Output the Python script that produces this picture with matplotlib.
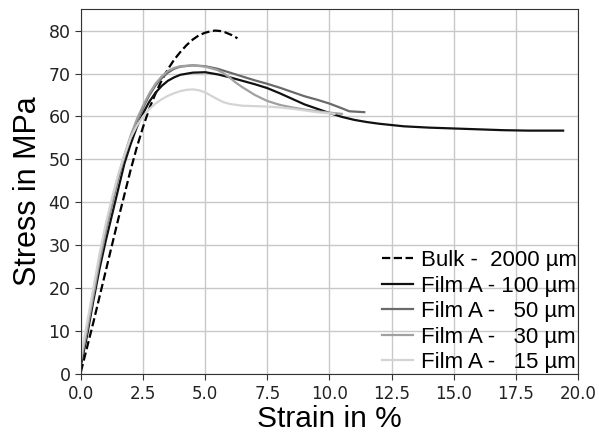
import matplotlib
matplotlib.use("Agg")
import matplotlib.pyplot as plt

# strain in %, stress in MPa
bulk_x = [0, 0.5, 1, 1.5, 2, 2.25, 2.5, 2.75, 3, 3.25, 3.5, 3.75, 4, 4.25, 4.5, 4.75, 5, 5.2, 5.4, 5.6, 5.8, 6.05, 6.3]
bulk_y = [0.5, 12, 24, 36, 47.5, 52.8, 57.5, 61.8, 65.3, 68.4, 71, 73.2, 75, 76.6, 77.9, 78.9, 79.5, 79.8, 80, 79.9, 79.6, 79, 78.2]

f100_x = [0, 0.25, 0.5, 0.75, 1, 1.25, 1.5, 1.75, 2, 2.25, 2.5, 2.75, 3, 3.25, 3.5, 3.75, 4, 4.5, 5, 5.5, 6, 6.5,
          7, 7.5, 8, 8.5, 9, 9.5, 10, 10.5, 11, 11.5, 12, 12.5, 13, 14, 15, 16, 17, 18, 19.4]
f100_y = [2, 9, 17, 24.5, 31, 37, 43, 49, 53.5, 57.5, 60.7, 63.4, 65.5, 67.1, 68.3, 69.1, 69.7, 70.2, 70.3, 69.8, 69.1, 68.3,
          67.5, 66.6, 65.4, 64.1, 62.8, 61.8, 60.8, 59.9, 59.2, 58.7, 58.3, 58.0, 57.7, 57.4, 57.2, 57.0, 56.8, 56.7, 56.7]

f50_x = [0, 0.25, 0.5, 0.75, 1, 1.25, 1.5, 1.75, 2, 2.25, 2.5, 2.75, 3, 3.25, 3.5, 3.75, 4, 4.5, 5, 5.5, 6, 6.5,
         7, 7.5, 8, 8.5, 9, 9.5, 10, 10.5, 10.8, 11.4]
f50_y = [3, 10, 18, 26, 33, 39.5, 45.5, 50.5, 55, 58.8, 62, 64.9, 67.2, 68.9, 70.2, 71.1, 71.6, 71.9, 71.7, 71.1, 70.2, 69.3,
         68.4, 67.6, 66.7, 65.7, 64.7, 63.9, 63, 61.9, 61.2, 61.0]

f30_x = [0, 0.25, 0.5, 0.75, 1, 1.25, 1.5, 1.75, 2, 2.25, 2.5, 2.75, 3, 3.25, 3.5, 3.75, 4, 4.5, 5, 5.5, 5.75, 6, 6.25, 6.5,
         7, 7.5, 8, 8.5, 9, 9.5, 10, 10.5]
f30_y = [3, 10.5, 18.5, 26.5, 33.5, 40, 46, 51, 55.5, 59.3, 62.5, 65.3, 67.6, 69.3, 70.6, 71.3, 71.7, 71.9, 71.6, 70.8, 70.0, 69.0, 67.8, 66.8,
         65.0, 63.6, 62.7, 62.1, 61.6, 61.2, 60.9, 60.6]

f15_x = [0, 0.25, 0.5, 0.75, 1, 1.25, 1.5, 1.75, 2, 2.25, 2.5, 2.75, 3, 3.25, 3.5, 3.75, 4, 4.25, 4.5, 4.75, 5, 5.25, 5.5, 5.75, 6, 6.5,
         7, 7.5, 8, 8.5, 9, 9.5, 10, 10.2]
f15_y = [4, 12, 20, 28, 35, 41, 46.5, 51, 55, 57.8, 60, 61.7, 63, 64, 64.8, 65.4, 65.9, 66.2, 66.3, 66.1, 65.6, 64.8, 64.0, 63.3, 62.9, 62.5,
         62.4, 62.3, 62.1, 61.8, 61.4, 61.0, 60.7, 60.6]

x_ticks = [0, 2.5, 5, 7.5, 10, 12.5, 15, 17.5, 20]
y_ticks = [0, 10, 20, 30, 40, 50, 60, 70, 80]

fig = plt.figure(figsize=(5.99, 4.33), dpi=100)
ax = fig.add_axes([0.135, 0.136, 0.83, 0.843])

ax.grid(True, color="#c8c8c8", linewidth=1)
ax.set_axisbelow(True)

lw = 1.6
ax.plot(bulk_x, bulk_y, color="black", linestyle="--", linewidth=lw, label="Bulk -  2000 µm")
ax.plot(f100_x, f100_y, color="#111111", linewidth=lw, label="Film A - 100 µm")
ax.plot(f50_x, f50_y, color="#6a6a6a", linewidth=lw, label="Film A -   50 µm")
ax.plot(f30_x, f30_y, color="#a0a0a0", linewidth=lw, label="Film A -   30 µm")
ax.plot(f15_x, f15_y, color="#d4d4d4", linewidth=lw, label="Film A -   15 µm")

ax.set_xlim(0, 20)
ax.set_ylim(0, 85)
ax.set_xticks(x_ticks)
ax.set_yticks(y_ticks)
ax.tick_params(length=4, color="#333333", labelcolor="#222222")
ax.tick_params(axis="x", labelsize=12)
ax.tick_params(axis="y", labelsize=12.5)
for s in ax.spines.values():
    s.set_color("#333333")

ax.set_xlabel("Strain in %", fontsize=21.5, family="Liberation Sans", labelpad=2)
ax.set_ylabel("Stress in MPa", fontsize=22, family="Liberation Sans", labelpad=4)

leg = ax.legend(loc="lower right", frameon=False, prop={"family": "Liberation Sans", "size": 16},
                handlelength=1.4, handletextpad=0.35, labelspacing=0.2, borderaxespad=0.0,
                borderpad=0.05)

fig.savefig("out.png", dpi=100)
